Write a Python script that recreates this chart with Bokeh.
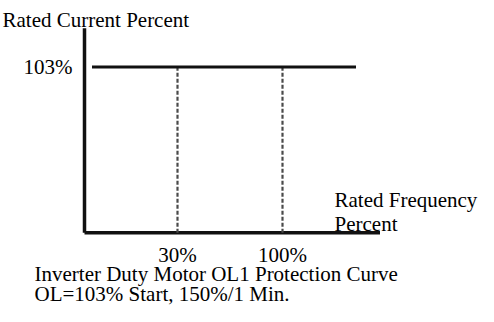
from bokeh.plotting import figure
from bokeh.models import Range1d
from bokeh.core.properties import value
from bokeh.embed import file_html
from bokeh.resources import INLINE

# ---- data ----
freq_ticks = [30, 100]                 # rated frequency percent marks
freq_labels = ["30%", "100%"]
current_level = [103]                  # OL start level, rated current percent
current_labels = ["103%"]
curve_freq = [-27, 149]                # horizontal protection line extent
axis_freq = [-32, 165]                 # frequency axis extent
axis_current = [0, 127]                # current axis extent
y_title = "Rated Current Percent"
x_title = ["Rated Frequency", "Percent"]
caption = ["Inverter Duty Motor OL1 Protection Curve", "OL=103% Start, 150%/1 Min."]

W, H = 478, 306
# scales: 1.5 px per freq %, 1.61 px per current %
SX, SY = 1.5, 1.61
x0 = -88.0                 # freq at canvas left
y1 = 103 + (74.5 - 8) / SY  # current at canvas top
x1 = x0 + W / SX
y0 = y1 - H / SY

def fx(px):  # page px -> freq units
    return x0 + (px - 8) / SX

def fy(py):  # page px -> current units
    return y1 - (py - 8) / SY

p = figure(width=W, height=H, output_backend="svg", toolbar_location=None,
           x_range=Range1d(x0, x1), y_range=Range1d(y0, y1),
           min_border=0, min_border_left=0, min_border_right=0,
           min_border_top=0, min_border_bottom=0)
p.axis.visible = False
p.grid.visible = False
p.outline_line_color = None
p.background_fill_color = "white"
p.border_fill_color = "white"

FONT = value("Liberation Serif")
FS = value("21px")
INK = "#111111"

# axes
p.line(x=[axis_freq[0], axis_freq[0]], y=axis_current, line_color=INK, line_width=3.5)
p.line(x=axis_freq, y=[axis_current[0], axis_current[0]], line_color=INK, line_width=3.5)

# dashed verticals
p.segment(x0=freq_ticks, y0=[axis_current[0]] * 2, x1=freq_ticks,
          y1=current_level * 2, line_color="#4a4a4a", line_width=2.2, line_dash="4 2")

# protection level line
p.line(x=curve_freq, y=current_level * 2, line_color=INK, line_width=3)

# tick labels
p.text(x=freq_ticks, y=[fy(262)] * 2, text=freq_labels, text_align="center",
       text_baseline="alphabetic", text_font=FONT, text_font_size=FS, text_color="black")
p.text(x=[fx(80)], y=current_level, text=current_labels, text_align="right",
       text_baseline="middle", text_font=FONT, text_font_size=FS, text_color="black")

# titles
p.text(x=[fx(10)], y=[fy(27)], text=[y_title], text_align="left",
       text_baseline="alphabetic", text_font=FONT, text_font_size=FS, text_color="black")
p.text(x=[fx(342)] * 2, y=[fy(207), fy(231)], text=x_title, text_align="left",
       text_baseline="alphabetic", text_font=FONT, text_font_size=FS, text_color="black")
p.text(x=[fx(42)] * 2, y=[fy(281), fy(301)], text=caption, text_align="left",
       text_baseline="alphabetic", text_font=FONT, text_font_size=FS, text_color="black")

open("out.html", "w").write(file_html(p, INLINE))
